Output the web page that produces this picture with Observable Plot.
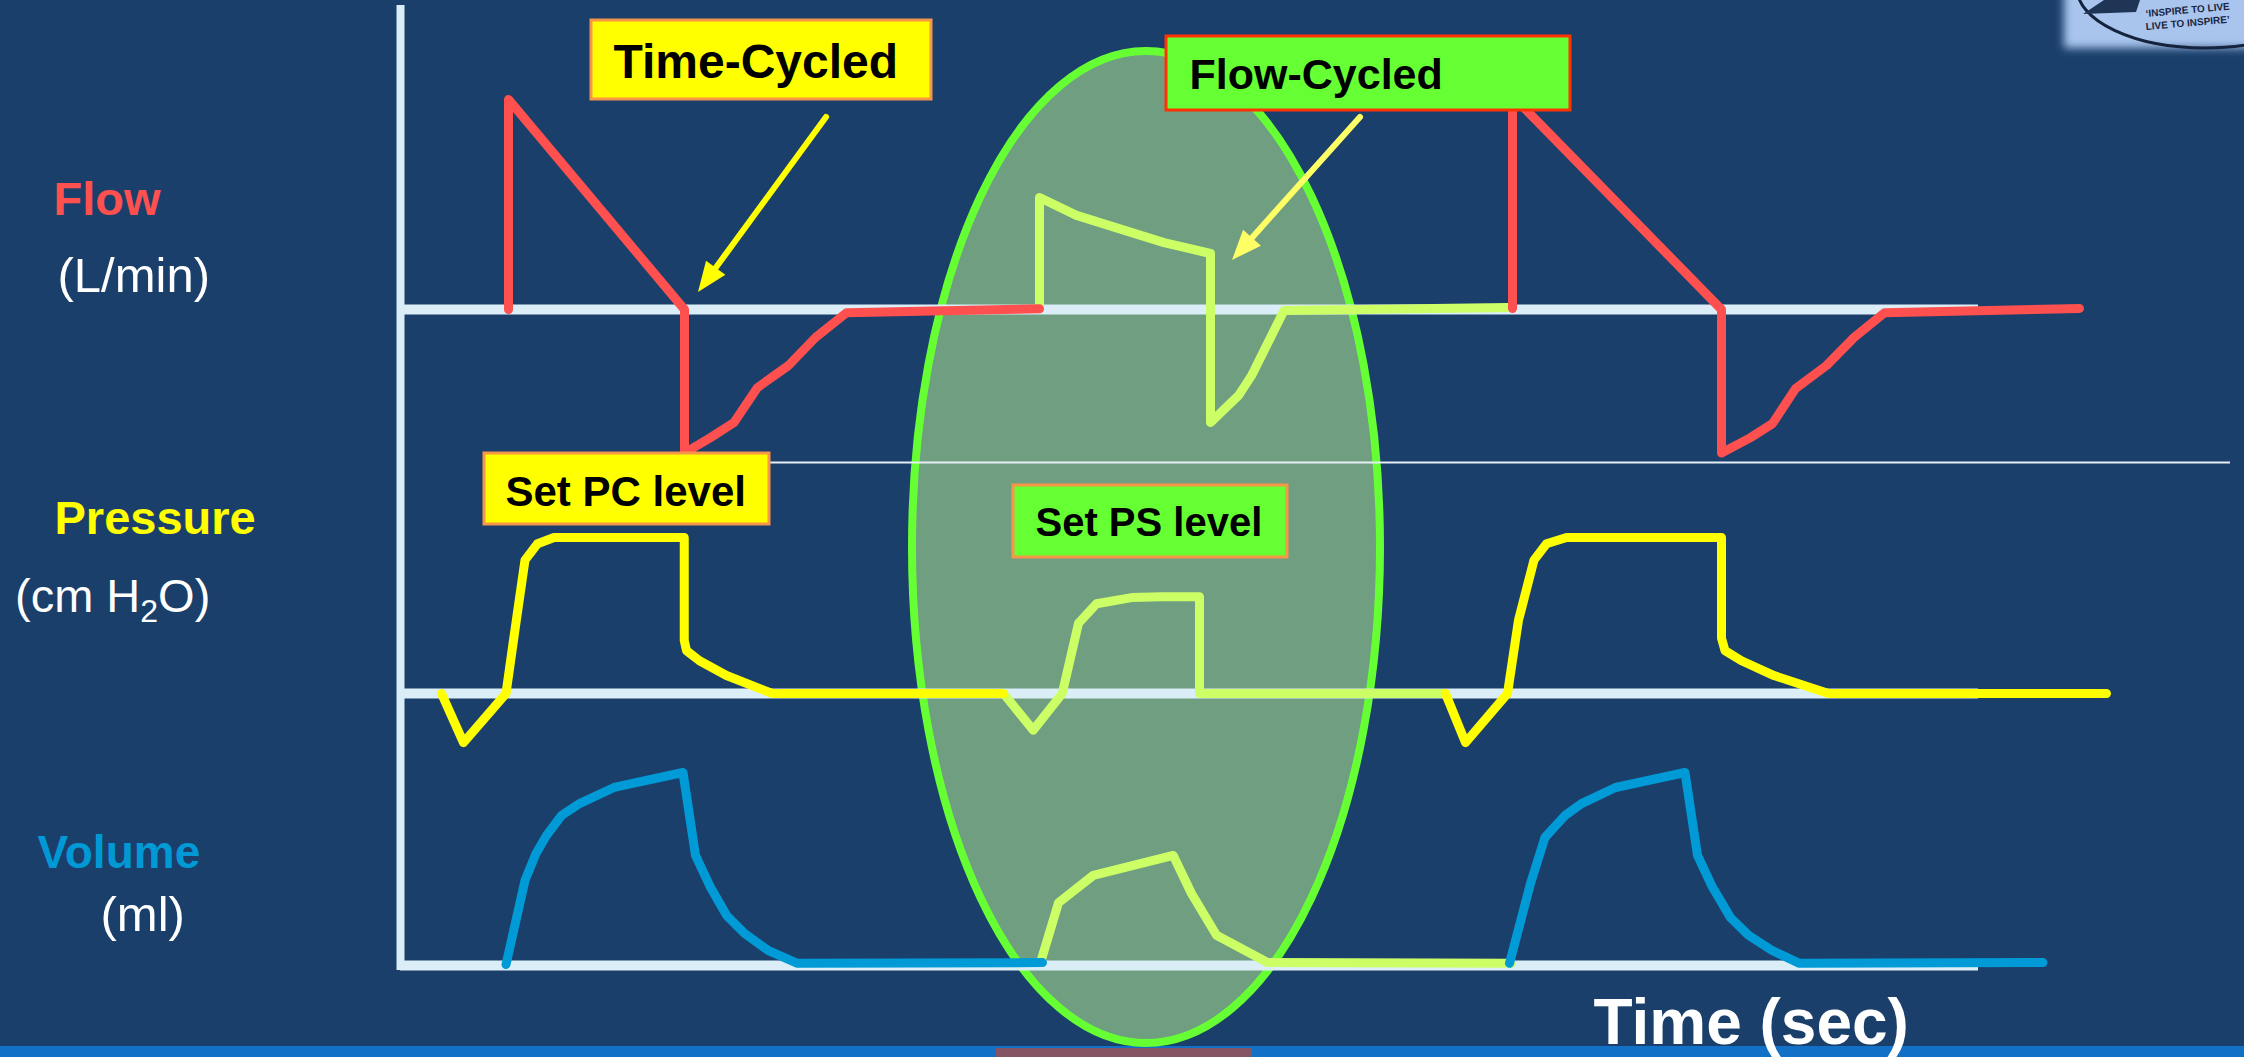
<!DOCTYPE html>
<html>
<head>
<meta charset="utf-8">
<script src="https://cdn.jsdelivr.net/npm/d3@7"></script>
<script src="https://cdn.jsdelivr.net/npm/@observablehq/plot@0.6"></script>
<style>
  html, body { margin: 0; padding: 0; background: #1a3f6b; overflow: hidden; }
  #chart { width: 2244px; height: 1057px; }
</style>
</head>
<body>
<div id="chart"></div>
<script>
// ---------------- DATA (time in s; flow L/min; pressure cm H2O; volume ml) ----------------
// Pressure-controlled breath 1 (time-cycled)
const flowPC1 = [[0.432,0],[0.432,60],[1.136,0],[1.136,-41],[1.24,-36.6],[1.334,-32.3],[1.428,-22.3],[1.552,-16],[1.66,-8],[1.784,-0.9],[2.556,0.2]];
const pressurePC1 = [[0.164,0],[0.252,-6.3],[0.422,0],[0.462,9.1],[0.498,17.1],[0.548,19.2],[0.614,20],[1.135,20],[1.135,6.8],[1.144,5.5],[1.196,4.2],[1.304,2.3],[1.487,0],[2.412,0]];
const volumePC1 = [[0.422,0],[0.498,219],[0.542,289],[0.584,336],[0.644,388],[0.716,419],[0.854,461],[1.13,500],[1.18,284],[1.24,201],[1.304,128],[1.376,81],[1.472,36],[1.588,3],[2.568,5]];
// Pressure-support breath (flow-cycled)
const flowPS = [[2.556,0.2],[2.556,32],[2.704,26.9],[3.054,19.1],[3.24,16],[3.24,-32.3],[3.352,-24.6],[3.404,-18.9],[3.534,-0.3],[4.428,0.6]];
const pressurePS = [[2.412,0],[2.531,-4.7],[2.647,0],[2.712,9],[2.784,11.5],[2.924,12.3],[3.04,12.4],[3.196,12.4],[3.196,0],[4.18,0]];
const volumePS = [[2.56,5],[2.632,161],[2.771,232],[3.091,284],[3.164,185],[3.264,76],[3.468,5],[4.444,3]];
// Pressure-controlled breath 2 (time-cycled)
const flowPC2 = [[4.448,0.3],[4.448,61],[5.284,0],[5.284,-41],[5.4,-36.6],[5.488,-32.6],[5.58,-22.6],[5.704,-16],[5.814,-8],[5.936,-0.9],[6.716,0.3]];
const pressurePC2 = [[4.18,0],[4.26,-6.3],[4.428,0],[4.472,9.4],[4.534,17.1],[4.584,19.2],[4.664,20],[5.284,20],[5.284,7.1],[5.298,5.5],[5.364,4.2],[5.494,2.3],[5.712,0],[6.824,0]];
const volumePC2 = [[4.436,3],[4.52,211],[4.578,331],[4.658,388],[4.724,419],[4.86,461],[5.138,500],[5.188,284],[5.248,201],[5.32,122],[5.392,76],[5.488,36],[5.596,3],[6.57,5]];

// Text
const sideLabels = [
  {text: "Flow", x: 53, base: 214, size: 47, weight: "bold", color: "#ff5050"},
  {text: "(L/min)", x: 57, base: 291, size: 49, weight: "normal", color: "#ffffff"},
  {text: "Pressure", x: 54, base: 533, size: 47, weight: "bold", color: "#ffff00"},
  {text: "Volume", x: 37, base: 867, size: 46, weight: "bold", color: "#0099d6"},
  {text: "(ml)", x: 100, base: 930, size: 49, weight: "normal", color: "#ffffff"}
];
const boxes = [
  {text: "Time-Cycled", x1: 591, x2: 931, y1: 20, y2: 99, fill: "#ffff00", stroke: "#f79646", tx: 613, base: 77, size: 48},
  {text: "Flow-Cycled", x1: 1166, x2: 1570, y1: 36, y2: 110, fill: "#66ff33", stroke: "#ff3300", tx: 1189, base: 88, size: 43},
  {text: "Set PC level", x1: 484, x2: 769, y1: 453, y2: 524, fill: "#ffff00", stroke: "#f79646", tx: 505, base: 505, size: 42},
  {text: "Set PS level", x1: 1013, x2: 1287, y1: 485, y2: 557, fill: "#66ff33", stroke: "#f79646", tx: 1035, base: 535, size: 40}
];
const arrows = [
  {x1: 826, y1: 117, x2: 698, y2: 292, color: "#ffff00"},
  {x1: 1360, y1: 117, x2: 1232, y2: 260, color: "#ffff66"}
];

// ---------------- LAYOUT ----------------
const W = 2244, H = 1057;
const FONT = "Liberation Sans, Arial, Helvetica, sans-serif";
const xRange = {domain: [0, 7], range: [400, 2150]};
const px2t = px => (px - 400) / 250; // annotation layout only
const yFlow = d3.scaleLinear([0, 60], [309, 99]);
const yPressure = d3.scaleLinear([0, 20], [693, 537]);
const yVolume = d3.scaleLinear([0, 500], [964, 772]);
const COL = {flow: "#ff5050", pressure: "#ffff00", volume: "#009bd6", ps: "#ccff66", base: "#dbeef8"};

const trace = (data, ys, color) => Plot.line(data, {
  x: d => d[0], y: d => ys(d[1]), stroke: color, strokeWidth: 9,
  strokeLinejoin: "round", strokeLinecap: "round"
});

const ellipseMark = () => {
  const g = d3.create("svg:g");
  g.append("ellipse").attr("cx", 1146).attr("cy", 547).attr("rx", 234).attr("ry", 496)
    .attr("fill", "#6f9e80").attr("stroke", "#66ff33").attr("stroke-width", 8);
  return g.node();
};

const logoMark = () => {
  const g = d3.create("svg:g").attr("text-anchor", "start");
  const defs = g.append("defs");
  defs.append("filter").attr("id", "lb").attr("x", "-20%").attr("y", "-40%").attr("width", "140%").attr("height", "180%")
    .append("feGaussianBlur").attr("stdDeviation", 4);
  defs.append("clipPath").attr("id", "lc").append("rect").attr("x", 2056).attr("y", 0).attr("width", 188).attr("height", 54);
  g.append("rect").attr("x", 2064).attr("y", -10).attr("width", 200).attr("height", 58).attr("fill", "#a9c5ee").attr("filter", "url(#lb)");
  const c = g.append("g").attr("clip-path", "url(#lc)");
  c.append("ellipse").attr("cx", 2205).attr("cy", -12).attr("rx", 128).attr("ry", 60)
    .attr("fill", "none").attr("stroke", "#16233d").attr("stroke-width", 3);
  c.append("path").attr("d", "M2083,14 L2104,0 L2140,0 L2136,12 Z").attr("fill", "#1f3556");
  c.append("text").attr("x", 2146).attr("y", 17).attr("font-size", 10).attr("font-weight", "bold")
    .attr("font-family", FONT).attr("fill", "#1a2440").attr("transform", "rotate(-5 2146 17)").text("\u2018INSPIRE TO LIVE");
  c.append("text").attr("x", 2146).attr("y", 30).attr("font-size", 10).attr("font-weight", "bold")
    .attr("font-family", FONT).attr("fill", "#1a2440").attr("transform", "rotate(-5 2146 30)").text("LIVE TO INSPIRE\u2019");
  return g.node();
};

const arrowMark = (a) => () => {
  const g = d3.create("svg:g");
  const ang = Math.atan2(a.y2 - a.y1, a.x2 - a.x1);
  const L = 30, hw = 12;
  const bx = a.x2 - L * Math.cos(ang), by = a.y2 - L * Math.sin(ang);
  const nx = -Math.sin(ang), ny = Math.cos(ang);
  g.append("line").attr("x1", a.x1).attr("y1", a.y1).attr("x2", bx).attr("y2", by)
    .attr("stroke", a.color).attr("stroke-width", 6).attr("stroke-linecap", "round");
  g.append("path").attr("d", `M${a.x2},${a.y2}L${bx + nx * hw},${by + ny * hw}L${bx - nx * hw},${by - ny * hw}Z`).attr("fill", a.color);
  return g.node();
};

const h2oMark = () => {
  const t = d3.create("svg:text").attr("x", 15).attr("y", 612).attr("font-size", 47)
    .attr("text-anchor", "start").attr("font-family", FONT).attr("fill", "#ffffff");
  t.append("tspan").text("(cm H");
  t.append("tspan").attr("font-size", 32).attr("dy", 10).text("2");
  t.append("tspan").attr("dy", -10).text("O)");
  return t.node();
};

const textAt = (d, opts) => Plot.text([d], {
  x: () => px2t(opts.x), y: () => opts.base, text: () => d.text,
  textAnchor: "start", lineAnchor: "middle", dy: -0.32 * opts.size,
  fontSize: opts.size, fontWeight: opts.weight, fill: opts.color, fontFamily: FONT
});

const chart = Plot.plot({
  width: W, height: H, margin: 0,
  x: {...xRange, axis: null},
  y: {type: "identity", axis: null},
  color: {type: "identity"},
  style: {background: "#1a3f6b", fontFamily: FONT},
  marks: [
    // bottom band
    Plot.rect([0], {x1: px2t(0), x2: px2t(W), y1: 1046, y2: 1057, fill: "#1271c6"}),
    Plot.rect([0], {x1: px2t(996), x2: px2t(1252), y1: 1048, y2: 1057, fill: "#845565"}),
    logoMark,
    ellipseMark,
    // axes / baselines
    Plot.ruleY([yFlow(0), yPressure(0), yVolume(0) + 1], {x1: 0, x2: px2t(1978), stroke: COL.base, strokeWidth: 10}),
    Plot.ruleX([0], {y1: 5, y2: 970, stroke: COL.base, strokeWidth: 8}),
    Plot.ruleY([462], {x1: px2t(484), x2: px2t(2230), stroke: "#e6edf3", strokeWidth: 2}),
    // PS breath traces
    trace(flowPS, yFlow, COL.ps),
    trace(pressurePS, yPressure, COL.ps),
    trace(volumePS, yVolume, COL.ps),
    // PC breath traces
    trace(flowPC1, yFlow, COL.flow),
    trace(flowPC2, yFlow, COL.flow),
    trace(pressurePC1, yPressure, COL.pressure),
    trace(pressurePC2, yPressure, COL.pressure),
    trace(volumePC1, yVolume, COL.volume),
    trace(volumePC2, yVolume, COL.volume),
    // arrows
    ...arrows.map(arrowMark),
    // boxes
    Plot.rect(boxes, {x1: d => px2t(d.x1), x2: d => px2t(d.x2), y1: d => d.y1, y2: d => d.y2,
      fill: d => d.fill, stroke: d => d.stroke, strokeWidth: 3}),
    ...boxes.map(b => textAt(b, {x: b.tx, base: b.base, size: b.size, weight: "bold", color: "#000000"})),
    // side labels
    ...sideLabels.map(l => textAt(l, {x: l.x, base: l.base, size: l.size, weight: l.weight, color: l.color})),
    h2oMark,
    textAt({text: "Time (sec)"}, {x: 1593, base: 1043, size: 64, weight: "bold", color: "#ffffff"})
  ]
});
document.getElementById("chart").appendChild(chart);
</script>
</body>
</html>
